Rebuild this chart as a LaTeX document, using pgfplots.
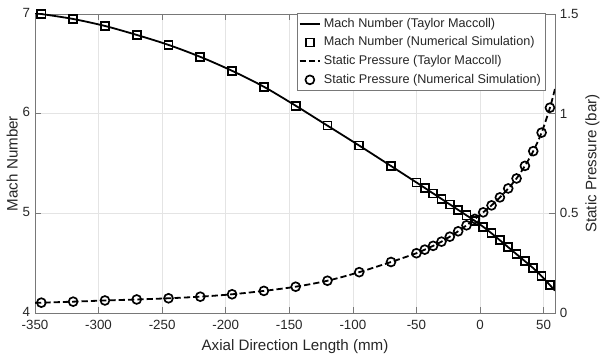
\documentclass[border=0pt]{standalone}
\usepackage{fontspec}
\setmainfont{Liberation Sans}
\usepackage{pgfplots}
\pgfplotsset{compat=1.18}
\definecolor{gridc}{RGB}{228,228,228}
\definecolor{axc}{RGB}{120,120,120}
\definecolor{txtc}{RGB}{38,38,38}
\begin{document}
\begin{tikzpicture}
\pgfplotsset{
  common/.style={
    scale only axis, width=374.4pt, height=215.3pt,
    xmin=-350, xmax=59,
    /pgf/number format/assume math mode=true,
    tick label style={font=\fontsize{9.6}{11}\selectfont, text=txtc},
    label style={font=\fontsize{10.9}{12}\selectfont, text=txtc},
    axis line style={axc, line width=0.5pt},
    tick style={axc, line width=0.5pt},
    tick align=inside,
    major tick length=4pt,
  },
}
\begin{axis}[common,
  ymin=4, ymax=7,
  xtick={-350,-300,...,50}, ytick={4,5,6,7},
  xtick pos=both, ytick pos=left,
  grid=major, major grid style={gridc, line width=0.5pt},
  xlabel={Axial Direction Length (mm)},
  ylabel={Mach Number},
  xlabel style={at={(axis description cs:0.5,-0.087)}, anchor=north, inner sep=0pt},
  ylabel style={at={(axis description cs:-0.044,0.5)}, anchor=center, inner sep=0pt},
  xticklabel style={yshift=-1.5pt},
  yticklabel style={yshift=1pt},
]
\coordinate (bl) at (rel axis cs:-0.0673,-0.1572);
\coordinate (tr) at (rel axis cs:1.0865,1.0468);
\addplot[black, line width=1.3pt, smooth] coordinates {
(-350,7.008) (-345,7.00) (-320,6.95) (-295,6.88) (-270,6.79) (-245,6.69) (-220,6.57)
(-195,6.43) (-170,6.27) (-145,6.08) (-120,5.88) (-95,5.68) (-70,5.475) (-50,5.31)
(-43.44,5.255) (-36.88,5.20) (-30.31,5.145) (-23.75,5.09) (-17.19,5.035) (-10.63,4.98)
(-4.06,4.925) (2.5,4.865) (9.06,4.80) (15.63,4.73) (22.19,4.66) (28.75,4.59)
(35.31,4.52) (41.88,4.45) (48.44,4.37) (55,4.28) (59,4.225)
};
\addplot[black, only marks, mark=square, mark size=2.9pt, mark options={line width=1.2pt}] coordinates {
(-345,7.00) (-320,6.95) (-295,6.88) (-270,6.79) (-245,6.69) (-220,6.57)
(-195,6.43) (-170,6.27) (-145,6.08) (-120,5.88) (-95,5.68) (-70,5.475) (-50,5.31)
(-43.44,5.255) (-36.88,5.20) (-30.31,5.145) (-23.75,5.09) (-17.19,5.035) (-10.63,4.98)
(-4.06,4.925) (2.5,4.865) (9.06,4.80) (15.63,4.73) (22.19,4.66) (28.75,4.59)
(35.31,4.52) (41.88,4.45) (48.44,4.37) (55,4.28)
};
\end{axis}
\begin{axis}[common,
  ymin=0, ymax=1.5,
  ytick={0,0.5,1,1.5},
  axis x line=none, axis y line*=right, ytick pos=right,
  ylabel={Static Pressure (bar)},
  every axis y label/.style={at={(axis description cs:1.072,0.5)}, anchor=center, inner sep=0pt, rotate=90,
    font=\fontsize{10.9}{12}\selectfont, text=txtc},
  legend style={at={(rel axis cs:0.9815,1.004)}, anchor=north east,
    draw=axc, line width=0.5pt, fill=white, font=\fontsize{9.1}{11}\selectfont,
    inner xsep=1pt, inner ysep=1.5pt, row sep=1.4pt, text=txtc},
  legend cell align=left,
  legend image code/.code={\draw[mark repeat=2,mark phase=2,#1] plot coordinates {(0cm,0cm) (0.26cm,0cm) (0.52cm,0cm)};},
]
\addlegendimage{black, line width=1.3pt}
\addlegendentry{Mach Number (Taylor Maccoll)}
\addlegendimage{black, only marks, mark=square, mark size=2.9pt, mark options={line width=1.2pt}}
\addlegendentry{Mach Number (Numerical Simulation)}
\addplot[black, line width=1.3pt, dash pattern=on 4.5pt off 2.2pt, smooth] coordinates {
(-350,0.051) (-345,0.052) (-320,0.057) (-295,0.063) (-270,0.068) (-245,0.074) (-220,0.082)
(-195,0.094) (-170,0.111) (-145,0.132) (-120,0.162) (-95,0.205) (-70,0.256) (-50,0.300)
(-43.44,0.318) (-36.88,0.337) (-30.31,0.358) (-23.75,0.383) (-17.19,0.410) (-10.63,0.440)
(-4.06,0.472) (2.5,0.505) (9.06,0.540) (15.63,0.580) (22.19,0.625) (28.75,0.675)
(35.31,0.738) (41.88,0.812) (48.44,0.905) (55,1.03) (59,1.125)
};
\addlegendentry{Static Pressure (Taylor Maccoll)}
\addplot[black, only marks, mark=o, mark size=3.2pt, mark options={line width=1.2pt}] coordinates {
(-345,0.052) (-320,0.057) (-295,0.063) (-270,0.068) (-245,0.074) (-220,0.082)
(-195,0.094) (-170,0.111) (-145,0.132) (-120,0.162) (-95,0.205) (-70,0.256) (-50,0.300)
(-43.44,0.318) (-36.88,0.337) (-30.31,0.358) (-23.75,0.383) (-17.19,0.410) (-10.63,0.440)
(-4.06,0.472) (2.5,0.505) (9.06,0.540) (15.63,0.580) (22.19,0.625) (28.75,0.675)
(35.31,0.738) (41.88,0.812) (48.44,0.905) (55,1.03)
};
\addlegendentry{Static Pressure (Numerical Simulation)}
\end{axis}
\pgfresetboundingbox
\path[use as bounding box] (bl) rectangle (tr);
\end{tikzpicture}
\end{document}
